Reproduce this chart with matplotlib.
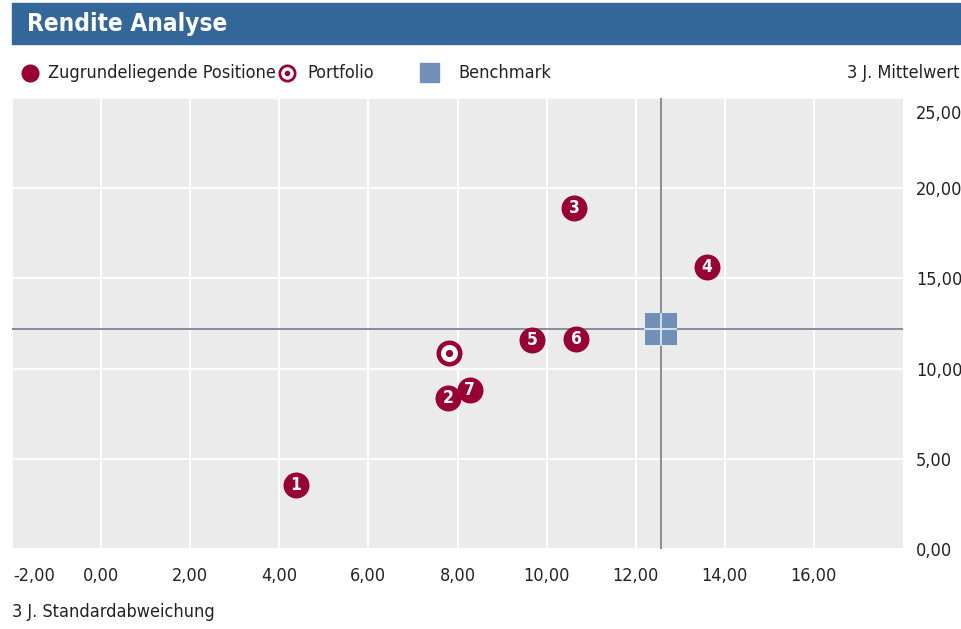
import matplotlib
matplotlib.use("Agg")
import matplotlib.pyplot as plt
from matplotlib.patches import Rectangle
from matplotlib import font_manager as fm
from matplotlib.transforms import ScaledTranslation

# Pick a condensed font if available
names = {f.name: f for f in fm.fontManager.ttflist}
condensed = [f for f in fm.fontManager.ttflist
             if f.name == 'DejaVu Sans' and 'Condensed' in f.fname]
if 'Liberation Sans Narrow' in names:
    FAM = ['Liberation Sans Narrow', 'DejaVu Sans']
    STRETCH = 'normal'
elif condensed:
    FAM = ['DejaVu Sans']
    STRETCH = 'condensed'
else:
    FAM = ['Roboto', 'DejaVu Sans']
    STRETCH = 'normal'
plt.rcParams['font.family'] = FAM
plt.rcParams['font.stretch'] = STRETCH

# Data
labels = ["1", "2", "3", "4", "5", "6", "7"]
std_dev = [4.37, 7.78, 10.62, 13.59, 9.67, 10.66, 8.27]
mean_ret = [3.52, 8.37, 18.89, 15.63, 11.59, 11.65, 8.80]
portfolio = (7.82, 10.87)
benchmark = (12.56, 12.17)
xticks = [-2, 0, 2, 4, 6, 8, 10, 12, 14, 16]
yticks = [0, 5, 10, 15, 20, 25]

RED = '#990033'
BLUE = '#336699'
BENCH = '#7090b8'
TXT = '#222222'
FS = 13

W, H = 962, 629
fig = plt.figure(figsize=(W / 100, H / 100), dpi=100)

def fx(px):
    return px / W

def fy(py):
    return 1 - py / H

# Header bar
fig.patches.append(Rectangle((fx(12), fy(44)), fx(948), 41 / H, transform=fig.transFigure,
                             color=BLUE, zorder=0))
fig.text(fx(27), fy(24), "Rendite Analyse", color='white', fontsize=17.5, fontweight='bold',
         va='center', ha='left')

# Axes
ax = fig.add_axes([fx(12), fy(549), fx(903 - 12), (549 - 98) / H])
ax.set_facecolor('#ebebeb')
ax.set_xlim(-2, 18)
ax.set_ylim(0, 25)
ax.set_xticks(xticks)
ax.set_yticks(yticks)
ax.grid(True, color='white', linewidth=1.4)
ax.set_axisbelow(True)
for s in ax.spines.values():
    s.set_visible(False)
ax.tick_params(length=0, colors=TXT, labelsize=FS)
ax.yaxis.tick_right()
ax.set_xticklabels([f"{v:.2f}".replace('.', ',') for v in xticks])
ax.set_yticklabels([f"{v:.2f}".replace('.', ',') for v in yticks])
ax.tick_params(axis='x', pad=13)
ax.tick_params(axis='y', pad=9.5)
ylabs = ax.get_yticklabels()
ylabs[-1].set_transform(ylabs[-1].get_transform() + ScaledTranslation(0, -0.14, fig.dpi_scale_trans))
xlabs = ax.get_xticklabels()
xlabs[0].set_transform(xlabs[0].get_transform() + ScaledTranslation(0.22, 0, fig.dpi_scale_trans))

# Crosshair at benchmark
ax.axvline(benchmark[0], color='#8a8a98', linewidth=1.4, zorder=2)
ax.axhline(benchmark[1], color='#8a8a98', linewidth=1.4, zorder=2)

# Benchmark square
ax.scatter([benchmark[0]], [benchmark[1]], marker='s', s=23 ** 2, color=BENCH, zorder=3,
           linewidths=0)
bw = 31 / 44.55 / 2
bh = 31 / 18 / 2
ax.plot([benchmark[0] - bw, benchmark[0] + bw], [benchmark[1]] * 2, color='#dde4ee', lw=1.3, zorder=4)
ax.plot([benchmark[0]] * 2, [benchmark[1] - bh, benchmark[1] + bh], color='#dde4ee', lw=1.3, zorder=4)

# Positions
ms = 18.7
ax.scatter(std_dev, mean_ret, s=ms ** 2, color=RED, zorder=5, linewidths=0)
for x, y, lab in zip(std_dev, mean_ret, labels):
    ax.text(x, y, lab, color='white', fontsize=12.5, fontweight='bold', ha='center', va='center',
            zorder=6)

# Portfolio
ax.scatter([portfolio[0]], [portfolio[1]], s=ms ** 2, color=RED, zorder=5, linewidths=0)
ax.scatter([portfolio[0]], [portfolio[1]], s=12.2 ** 2, color='white', zorder=6, linewidths=0)
ax.scatter([portfolio[0]], [portfolio[1]], s=5.2 ** 2, color=RED, zorder=7, linewidths=0)

# Legend row and captions (pixel coordinates overlay)
lax = fig.add_axes([0, 0, 1, 1], facecolor='none')
lax.set_xlim(0, W)
lax.set_ylim(H, 0)
lax.axis('off')
lax.scatter([30], [73], s=13 ** 2, color=RED, linewidths=0)
lax.text(48, 73, "Zugrundeliegende Positionen", color=TXT, fontsize=FS, va='center', ha='left',
         zorder=1)
lax.add_patch(Rectangle((277, 60), 300 - 277, 26, color='white', zorder=4))
lax.scatter([287], [73], s=13 ** 2, color=RED, linewidths=0, zorder=5)
lax.scatter([287], [73], s=9 ** 2, color='white', linewidths=0, zorder=6)
lax.scatter([287], [73], s=4 ** 2, color=RED, linewidths=0, zorder=7)
lax.add_patch(Rectangle((420, 63), 19, 19, color=BENCH))
lax.text(307, 73, "Portfolio", color=TXT, fontsize=FS, va='center', ha='left', zorder=8)
lax.text(458, 73, "Benchmark", color=TXT, fontsize=FS, va='center', ha='left')
lax.text(960, 73, "3 J. Mittelwert", color=TXT, fontsize=FS, va='center', ha='right')
lax.text(12, 612, "3 J. Standardabweichung", color=TXT, fontsize=FS, va='center', ha='left')

fig.savefig("out.png", dpi=100)
